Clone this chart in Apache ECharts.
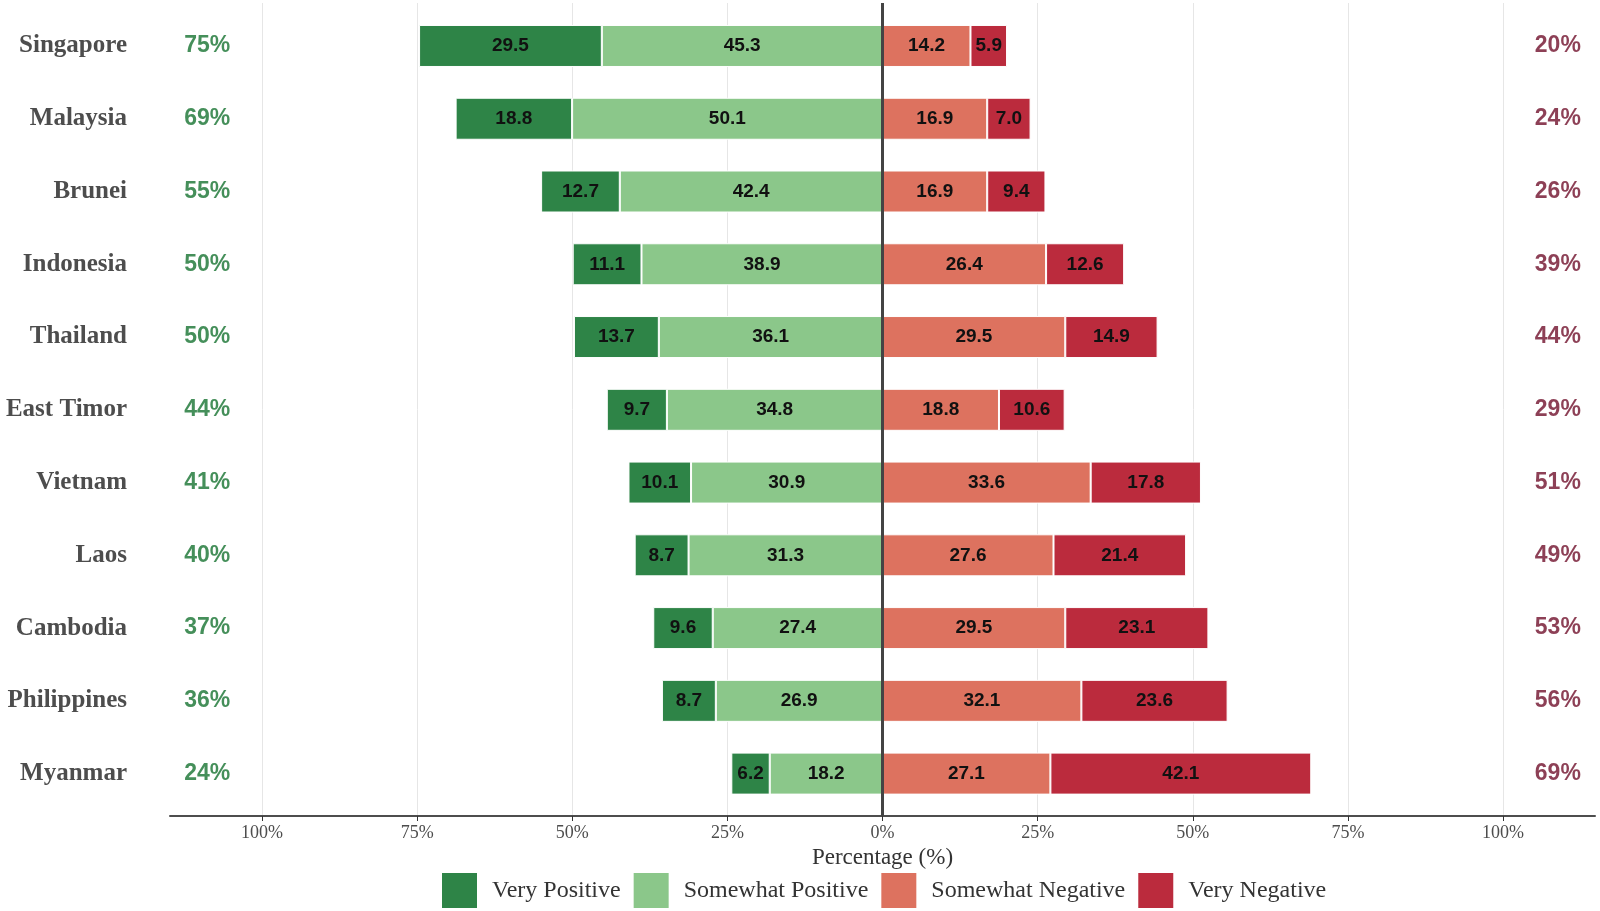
<!DOCTYPE html>
<html><head><meta charset="utf-8">
<script src="https://cdn.jsdelivr.net/npm/echarts@6/dist/echarts.min.js"></script>
<style>html,body{margin:0;padding:0;background:#fff}#c{width:1600px;height:911px}</style>
</head><body><div id="c"></div>
<script>
const countries = ['Singapore','Malaysia','Brunei','Indonesia','Thailand','East Timor','Vietnam','Laos','Cambodia','Philippines','Myanmar'];
const veryPositive = [29.5,18.8,12.7,11.1,13.7,9.7,10.1,8.7,9.6,8.7,6.2];
const somewhatPositive = [45.3,50.1,42.4,38.9,36.1,34.8,30.9,31.3,27.4,26.9,18.2];
const somewhatNegative = [14.2,16.9,16.9,26.4,29.5,18.8,33.6,27.6,29.5,32.1,27.1];
const veryNegative = [5.9,7.0,9.4,12.6,14.9,10.6,17.8,21.4,23.1,23.6,42.1];
const positiveTotal = [75,69,55,50,50,44,41,40,37,36,24];
const negativeTotal = [20,24,26,39,44,29,51,49,53,56,69];

const colors = {vp:'#2E8447', sp:'#8BC78A', sn:'#DD725F', vn:'#BB2B3D'};
const chart = echarts.init(document.getElementById('c'));
const barLabel = {show:true, position:'inside', color:'#111', fontFamily:'"Liberation Sans Narrow","Liberation Sans",Arial,sans-serif', fontWeight:'bold', fontSize:19, formatter:p=>Math.abs(p.value).toFixed(1)};
const serif = '"Liberation Serif","DejaVu Serif",serif';
function bar(name, vals, sign, color){
  return {name, type:'bar', xAxisIndex:2, yAxisIndex:2, stack:'all', barWidth:42,
    data: vals.map(v=>sign*v), itemStyle:{color, borderColor:'#fff', borderWidth:1}, label:barLabel, z:3};
}
chart.setOption({
  animation:false,
  grid:[
    {left:170, right:5, top:3, bottom:95},
    {left:262, right:97, top:3, bottom:95},
    {left:170, right:5, top:9.6, bottom:101}
  ],
  xAxis:[
    {gridIndex:0, type:'value', min:-115, max:115, axisLine:{show:true, lineStyle:{color:'#4d4d4d', width:2}}, axisTick:{show:false}, axisLabel:{show:false}, splitLine:{show:false}},
    {gridIndex:1, type:'value', min:-100, max:100, interval:25, axisLine:{show:false}, axisTick:{show:true, length:5, lineStyle:{color:'#333'}},
     axisLabel:{margin:8, fontFamily:serif, fontSize:18, color:'#4d4d4d', formatter:v=>Math.abs(v)+'%'},
     splitLine:{show:true, lineStyle:{color:'#e6e6e6', width:1}},
     name:'Percentage (%)', nameLocation:'middle', nameGap:30, nameTextStyle:{fontFamily:serif, fontSize:23, color:'#333'}},
    {gridIndex:2, type:'value', min:-115, max:115, show:false}
  ],
  yAxis:[
    {gridIndex:0, type:'value', show:false, min:0, max:1},
    {gridIndex:1, type:'value', show:false, min:0, max:1},
    {gridIndex:2, type:'category', data:countries, inverse:true, axisLine:{show:false}, axisTick:{show:false},
     axisLabel:{margin:43, fontFamily:serif, fontWeight:'bold', fontSize:25, color:'#4d4d4d'}}
  ],
  legend:{left:435, top:866, itemWidth:37, itemHeight:37, itemGap:11, icon:'rect',
    data:['Very Positive','Somewhat Positive','Somewhat Negative','Very Negative'],
    textStyle:{fontFamily:serif, fontSize:24, color:'#333', padding:[0,0,0,9]}},
  series:[
    {type:'line', xAxisIndex:1, yAxisIndex:1, data:[], silent:true,
     markLine:{symbol:'none', silent:true, label:{show:false}, lineStyle:{color:'#444', width:3, type:'solid'}, data:[{xAxis:0}]}, z:10},
    bar('Somewhat Positive', somewhatPositive, -1, colors.sp),
    bar('Very Positive', veryPositive, -1, colors.vp),
    bar('Somewhat Negative', somewhatNegative, 1, colors.sn),
    bar('Very Negative', veryNegative, 1, colors.vn),
    {type:'scatter', xAxisIndex:2, yAxisIndex:2, symbolSize:0, silent:true,
     data: positiveTotal.map((v,i)=>[-109, countries[i], v]),
     label:{show:true, position:'inside', formatter:p=>p.value[2]+'%', fontFamily:'"Liberation Sans",Arial,sans-serif', fontWeight:'bold', fontSize:23, color:'#167331'}},
    {type:'scatter', xAxisIndex:2, yAxisIndex:2, symbolSize:0, silent:true,
     data: negativeTotal.map((v,i)=>[109, countries[i], v]),
     label:{show:true, position:'inside', formatter:p=>p.value[2]+'%', fontFamily:'"Liberation Sans",Arial,sans-serif', fontWeight:'bold', fontSize:23, color:'#70102C'}}
  ]
});
</script></body></html>
